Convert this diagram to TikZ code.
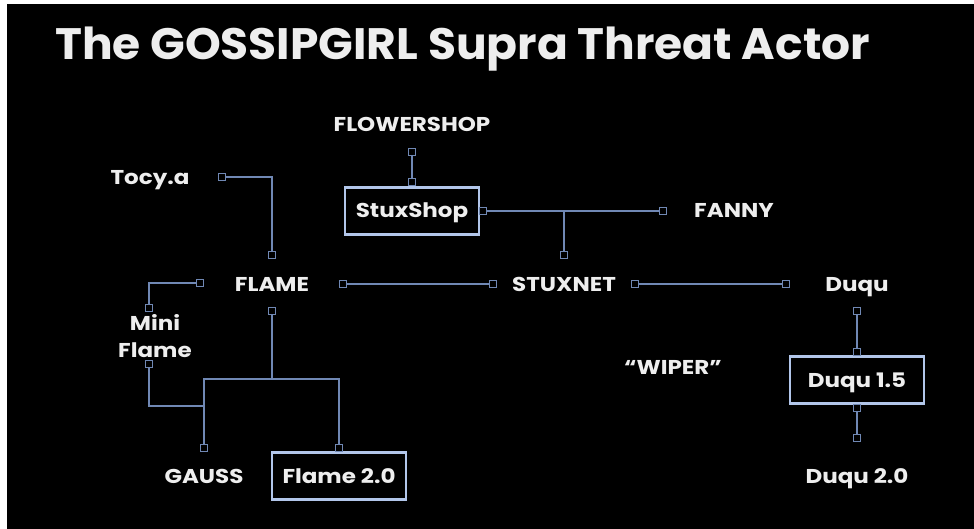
\documentclass[tikz,border=0pt]{standalone}
\usepackage{fontspec}
\setmainfont{Poppins}
\newfontfamily\labelfont{Poppins}[FakeStretch=1.15]
\newfontfamily\headfont{Poppins}[FakeStretch=1.035]
\usetikzlibrary{positioning}
\definecolor{linkblue}{RGB}{112,136,180}
\definecolor{boxblue}{RGB}{178,198,234}
\definecolor{inkwhite}{RGB}{238,238,238}

\begin{document}
\begin{tikzpicture}[x=1pt,y=-1pt,
  lbl/.style={text=inkwhite,font=\labelfont\bfseries\fontsize{20}{27}\selectfont,inner sep=0pt,align=center,text height=14pt,text depth=0pt},
  boxed/.style={lbl,draw=boxblue,line width=2.6pt,minimum width=134pt,minimum height=47pt},
  port/.style={draw=linkblue,fill=black,line width=1.2pt,minimum size=6.5pt,inner sep=0pt},
  link/.style={draw=linkblue,line width=1.4pt}]
\useasboundingbox (0,0) rectangle (974,529);
\fill[white] (0,0) rectangle (974,529);
\fill[black] (7,4) rectangle (974,529);
\node[text=inkwhite,font=\headfont\bfseries\fontsize{44}{50}\selectfont,anchor=base west,inner sep=0pt] (title) at (55,60) {The GOSSIPGIRL Supra Threat Actor};

% labels and boxes
\node[lbl] (flowershop) at (412,125) {FLOWERSHOP};
\node[lbl] (tocy) at (150,178) {Tocy.a};
\node[boxed] (stuxshop) at (412,211) {StuxShop};
\node[lbl] (fanny) at (734,211) {FANNY};
\node[lbl] (flame) at (272,284) {FLAME};
\node[lbl] (stuxnet) at (564,284) {STUXNET};
\node[lbl] (duqu) at (857,284) {Duqu};
\node[lbl,text height=41pt] (miniflame) at (155,337) {Mini\\Flame};
\node[lbl] (wiper) at (673,367) {“WIPER”};
\node[boxed] (duqu15) at (857,380) {Duqu 1.5};
\node[lbl] (gauss) at (204,476) {GAUSS};
\node[boxed] (flame20) at (339,476) {Flame 2.0};
\node[lbl] (duqu20) at (857,476) {Duqu 2.0};

% ports
\node[port] (flowershop-s) at (412,152) {};
\node[port] (stuxshop-n) at (412,182) {};
\node[port] (stuxshop-e) at (483,211) {};
\node[port] (fanny-w) at (663,211) {};
\node[port] (tocy-e) at (222,177) {};
\node[port] (flame-n) at (272,255) {};
\node[port] (flame-w) at (200,283) {};
\node[port] (flame-e) at (343,284) {};
\node[port] (flame-s) at (272,311) {};
\node[port] (stuxnet-n) at (564,255) {};
\node[port] (stuxnet-w) at (493,284) {};
\node[port] (stuxnet-e) at (635,284) {};
\node[port] (duqu-w) at (786,284) {};
\node[port] (duqu-s) at (857,311) {};
\node[port] (duqu15-n) at (857,352) {};
\node[port] (duqu15-s) at (857,408) {};
\node[port] (duqu20-n) at (857,438) {};
\node[port] (miniflame-n) at (149,308) {};
\node[port] (miniflame-s) at (149,364) {};
\node[port] (gauss-n) at (204,448) {};
\node[port] (flame20-n) at (339,448) {};
\coordinate (fork) at (272,379);
\coordinate (join) at (204,406);

% connectors
\draw[link] (flowershop-s) -- (stuxshop-n);
\draw[link] (stuxshop-e) -- (fanny-w);
\draw[link] (stuxnet-n |- stuxshop-e) -- (stuxnet-n);
\draw[link] (tocy-e) -| (flame-n);
\draw[link] (flame-e) -- (stuxnet-w);
\draw[link] (stuxnet-e) -- (duqu-w);
\draw[link] (flame-w) -| (miniflame-n);
\draw[link] (miniflame-s) |- (join);
\draw[link] (flame-s) -- (fork);
\draw[link] (gauss-n) |- (fork) -| (flame20-n);
\draw[link] (duqu-s) -- (duqu15-n);
\draw[link] (duqu15-s) -- (duqu20-n);
\end{tikzpicture}
\end{document}
